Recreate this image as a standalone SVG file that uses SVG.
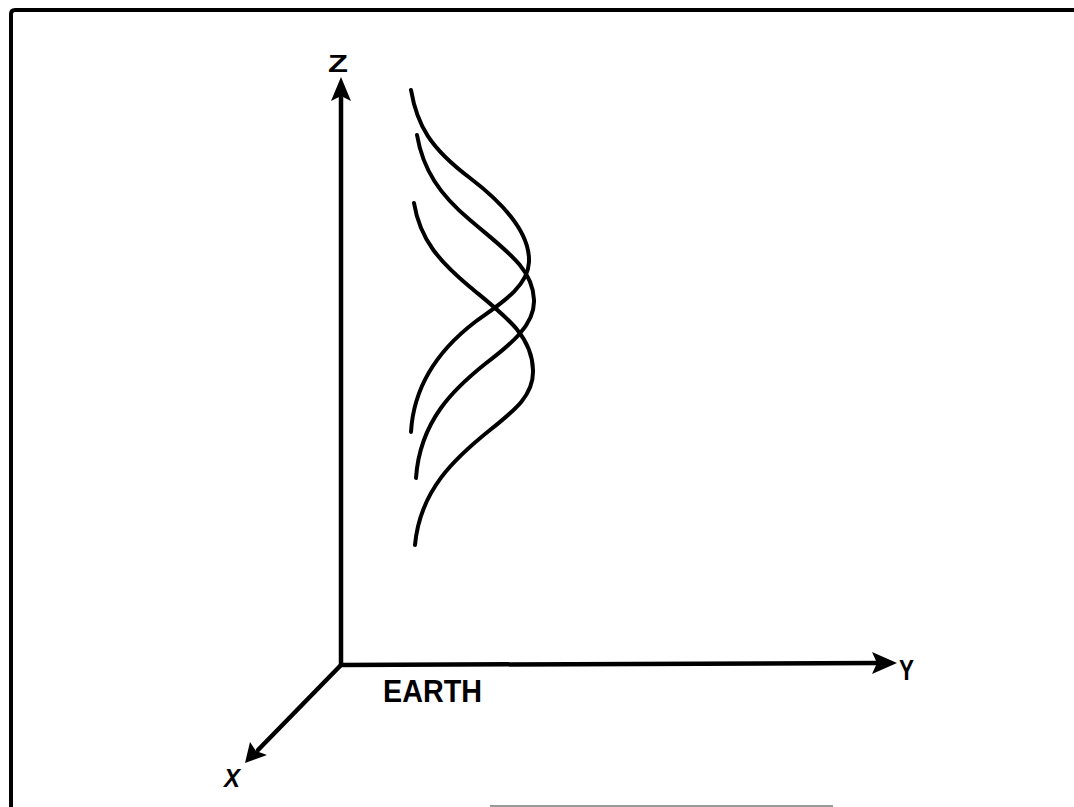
<svg xmlns="http://www.w3.org/2000/svg" width="1074" height="807" viewBox="0 0 1074 807">
<style>
.ax{stroke:#000;stroke-width:4.5;fill:none;stroke-linecap:round}
.cv{stroke:#000;stroke-width:4;fill:none;stroke-linecap:round}
.lbl{font-family:"Liberation Sans",Arial,sans-serif;font-weight:bold;fill:#000}
</style>
<rect width="1074" height="807" fill="#fff"/>
<g id="frame">
<path d="M11,807 L11,14 Q11,10 15,10 L1074,10" fill="none" stroke="#000" stroke-width="4"/>
<line x1="490" y1="806" x2="833" y2="806" stroke="#999" stroke-width="2"/>
</g>
<g id="connectors">
<line class="ax" x1="341" y1="665" x2="341" y2="96"/>
<path d="M341,77 L351,101 L341,96 L331,101 Z" fill="#000"/>
<line class="ax" x1="341" y1="665" x2="878" y2="663"/>
<path d="M897,663 L872,652 L877,663 L872,674 Z" fill="#000"/>
<line class="ax" x1="341" y1="665" x2="258" y2="750"/>
<path d="M245,763 L250,742 L256,751 L267,755 Z" fill="#000"/>
</g>
<g id="curves">
<path class="cv" d="M411,90 C417,125 430,148 470,178 C508,207 530,235 529,262 C528,287 500,304 475,322 C445,345 414,380 411,432"/>
<path class="cv" d="M417,135 C423,170 440,195 470,220 C505,250 533,268 534,300 C535,325 510,345 485,364 C455,388 420,420 416,478"/>
<path class="cv" d="M414,203 C420,240 440,262 470,287 C505,316 532,335 533,370 C534,395 515,410 490,430 C455,458 420,490 415,545"/>
</g>
<g id="labels">
<text class="lbl" x="328" y="72" font-size="23" textLength="20" lengthAdjust="spacingAndGlyphs">Z</text>
<text class="lbl" x="899" y="680" font-size="30" textLength="15" lengthAdjust="spacingAndGlyphs">Y</text>
<text class="lbl" x="224" y="787" font-size="26" textLength="16" lengthAdjust="spacingAndGlyphs" font-style="italic">X</text>
<text class="lbl" x="383" y="702" font-size="31" textLength="99" lengthAdjust="spacingAndGlyphs">EARTH</text>
</g>
</svg>
